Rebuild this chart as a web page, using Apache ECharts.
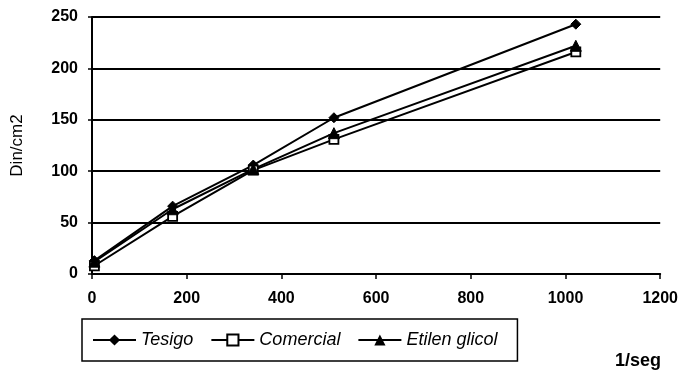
<!DOCTYPE html>
<html>
<head>
<meta charset="utf-8">
<script src="https://cdn.jsdelivr.net/npm/echarts@6/dist/echarts.min.js"></script>
<style>html,body{margin:0;padding:0;background:#fff}#c{width:681px;height:375px}</style>
</head>
<body>
<div id="c"></div>
<script>
const shearRates = [5.1, 170.3, 340.6, 510.9, 1021.8];
const tesigo = [13, 66, 106, 152, 243];
const comercial = [8, 56, 101, 131, 216];
const etilenGlicol = [12, 63, 102, 137, 222];
const seriesNames = ['Tesigo', 'Comercial', 'Etilen glicol'];
const yAxisTitle = 'Din/cm2';
const xAxisTitle = '1/seg';

const pairs = (ys) => shearRates.map((x, i) => [x, ys[i]]);
const font = 'Liberation Sans, Arial, sans-serif';

const chart = echarts.init(document.getElementById('c'), null, {renderer: 'canvas'});
chart.setOption({
  animation: false,
  backgroundColor: '#fff',
  title: {
    text: xAxisTitle,
    left: 615, top: 352, padding: 0,
    textStyle: {fontFamily: font, fontSize: 18, fontWeight: 'bold', color: '#000'}
  },
  grid: {left: 92, right: 20, top: 17, bottom: 101, containLabel: false},
  legend: {
    data: seriesNames,
    left: 82, top: 319,
    padding: [12, 20, 12, 10],
    itemWidth: 43, itemHeight: 14, itemGap: 17,
    borderColor: '#000', borderWidth: 1.5,
    textStyle: {fontFamily: font, fontSize: 18, fontStyle: 'italic', color: '#000'}
  },
  xAxis: {
    type: 'value', min: 0, max: 1200, interval: 200,
    axisLine: {show: true, lineStyle: {color: '#000', width: 2}},
    axisTick: {show: true, length: 5, lineStyle: {color: '#000', width: 1.5}},
    axisLabel: {fontFamily: font, fontSize: 16, fontWeight: 'bold', color: '#000', margin: 17,
      formatter: (v) => String(v)},
    splitLine: {show: false}
  },
  yAxis: {
    type: 'value', min: 0, max: 250, interval: 50,
    name: yAxisTitle, nameLocation: 'middle', nameGap: 66, nameRotate: 90,
    nameTextStyle: {fontFamily: font, fontSize: 17, color: '#000'},
    axisLine: {show: true, lineStyle: {color: '#000', width: 2}},
    axisTick: {show: true, length: 4, lineStyle: {color: '#000', width: 1.5}},
    axisLabel: {fontFamily: font, fontSize: 16, fontWeight: 'bold', color: '#000', margin: 14,
      formatter: (v) => String(v)},
    splitLine: {show: true, lineStyle: {color: '#000', width: 1.8}}
  },
  series: [
    {
      name: seriesNames[0], type: 'line', data: pairs(tesigo),
      symbol: 'diamond', symbolSize: 10,
      lineStyle: {color: '#000', width: 2},
      itemStyle: {color: '#000', borderColor: '#000'}
    },
    {
      name: seriesNames[1], type: 'line', data: pairs(comercial),
      symbol: 'rect', symbolSize: 9,
      lineStyle: {color: '#000', width: 2},
      itemStyle: {color: '#fff', borderColor: '#000', borderWidth: 1.8}
    },
    {
      name: seriesNames[2], type: 'line', data: pairs(etilenGlicol),
      symbol: 'triangle', symbolSize: 11,
      lineStyle: {color: '#000', width: 2},
      itemStyle: {color: '#000', borderColor: '#000'}
    }
  ]
});
</script>
</body>
</html>
